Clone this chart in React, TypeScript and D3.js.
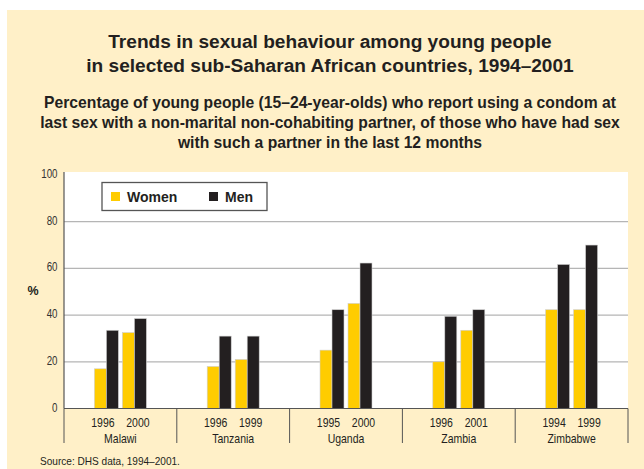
import React from "react";
import * as d3 from "d3";

const countries = ["Malawi", "Tanzania", "Uganda", "Zambia", "Zimbabwe"];
const surveyYears = [
  ["1996", "2000"],
  ["1996", "1999"],
  ["1995", "2000"],
  ["1996", "2001"],
  ["1994", "1999"],
];
const womenValues = [
  [17, 32.5],
  [18, 21],
  [25, 45],
  [20, 33.5],
  [42.3, 42.3],
];
const menValues = [
  [33.5, 38.5],
  [31, 31],
  [42.3, 62.3],
  [39.5, 42.3],
  [61.7, 70],
];
const yTicks = [0, 20, 40, 60, 80, 100];
const seriesNames = ["Women", "Men"];
const seriesColors = ["#FFCC00", "#231F20"];

const W = 644;
const H = 469;
const plotL = 64;
const plotR = 628;
const plotTop = 172;
const y0 = 408.5;
const y100 = 175;

type STextProps = {
  x: number;
  y: number;
  sx: number;
  size: number;
  anchor?: "start" | "middle" | "end";
  fill?: string;
  children: React.ReactNode;
};

function SText({ x, y, sx, size, anchor = "middle", fill = "#231F20", children }: STextProps) {
  return (
    <g transform={`translate(${x},${y}) scale(${sx},1)`}>
      <text x={0} y={0} textAnchor={anchor} fontSize={size} fill={fill}>
        {children}
      </text>
    </g>
  );
}

export default function App() {
  const x = d3.scaleBand<string>().domain(countries).range([plotL, plotR]).padding(0);
  const y = d3.scaleLinear().domain([0, 100]).range([y0, y100]);
  const pair = d3
    .scaleBand<number>()
    .domain([0, 1])
    .range([-26, 26])
    .paddingInner(1 / 7)
    .paddingOuter(0);
  const sex = d3.scaleBand<number>().domain([0, 1]).range([0, pair.bandwidth()]);
  const labelPos = d3.scalePoint<number>().domain([0, 1]).range([-17.5, 17.5]);

  const font = "'Liberation Sans', Arial, Helvetica, sans-serif";

  return (
    <svg
      width={W}
      height={H}
      style={{ position: "absolute", left: 0, top: 0 }}
      fontFamily={font}
    >
      <rect x={0} y={0} width={W} height={H} fill="#ffffff" />
      <rect x={7} y={10} width={W - 7} height={H - 10} fill="#FFF0C8" />

      <g fill="#231F20" fontWeight="bold" textAnchor="middle">
        <text x={330} y={48} fontSize={19.1}>Trends in sexual behaviour among young people</text>
        <text x={330} y={72} fontSize={19.1}>in selected sub-Saharan African countries, 1994–2001</text>
        <text x={330} y={108} fontSize={15.7}>Percentage of young people (15–24-year-olds) who report using a condom at</text>
        <text x={330} y={128} fontSize={15.7}>last sex with a non-marital non-cohabiting partner, of those who have had sex</text>
        <text x={330} y={147.5} fontSize={15.7}>with such a partner in the last 12 months</text>
      </g>

      <rect x={plotL} y={plotTop} width={plotR - plotL} height={y0 - plotTop} fill="#ffffff" />

      {yTicks.filter((t) => t > 0 && t < 100).map((t) => (
        <line key={t} x1={plotL} x2={plotR} y1={y(t)} y2={y(t)} stroke="#B5B5B5" strokeWidth={1.2} />
      ))}

      {yTicks.map((t) => (
        <SText key={t} x={57.5} y={Math.max(y(t), 173.5) + 3} sx={0.78} size={12.5} anchor="end" fill="#333">
          {t}
        </SText>
      ))}
      <text x={33} y={295} textAnchor="middle" fontSize={12.5} fontWeight="bold" fill="#231F20">%</text>

      {countries.map((c, ci) => {
        const cx = (x(c) as number) + x.bandwidth() / 2;
        return (
          <g key={c}>
            {[0, 1].map((yi) => {
              const px = cx + (pair(yi) as number);
              const vals = [womenValues[ci][yi], menValues[ci][yi]];
              return (
                <g key={yi}>
                  {vals.map((v, si) => (
                    <rect
                      key={si}
                      x={px + (sex(si) as number)}
                      y={y(v)}
                      width={sex.bandwidth()}
                      height={y0 - y(v)}
                      fill={seriesColors[si]}
                      stroke="#cfcfcf"
                      strokeWidth={0.6}
                    />
                  ))}
                  <SText x={cx + (labelPos(yi) as number)} y={426.5} sx={0.86} size={12.2}>
                    {surveyYears[ci][yi]}
                  </SText>
                </g>
              );
            })}
            <SText x={cx} y={443} sx={0.86} size={12.2}>
              {c}
            </SText>
          </g>
        );
      })}

      <line x1={plotL} x2={plotL} y1={plotTop} y2={y0} stroke="#555" strokeWidth={1.2} />
      <line x1={plotL} x2={plotR} y1={y0} y2={y0} stroke="#555" strokeWidth={1.2} />
      {countries.map((c) => (
        <line key={c} x1={x(c) as number} x2={x(c) as number} y1={y0} y2={443} stroke="#555" strokeWidth={1} />
      ))}
      <line x1={plotR} x2={plotR} y1={y0} y2={443} stroke="#555" strokeWidth={1} />

      <g>
        <rect x={102} y={182.5} width={165} height={28} fill="#ffffff" stroke="#555" strokeWidth={1.3} />
        {seriesNames.map((s, i) => (
          <g key={s} transform={`translate(${i === 0 ? 111 : 209},192)`}>
            <rect x={0} y={0} width={9} height={9} fill={seriesColors[i]} />
            <text x={16} y={9.5} fontSize={14} fontWeight="bold" fill="#231F20">{s}</text>
          </g>
        ))}
      </g>

      <SText x={40} y={465} sx={0.9} size={11.2} anchor="start">
        Source: DHS data, 1994–2001.
      </SText>
    </svg>
  );
}
